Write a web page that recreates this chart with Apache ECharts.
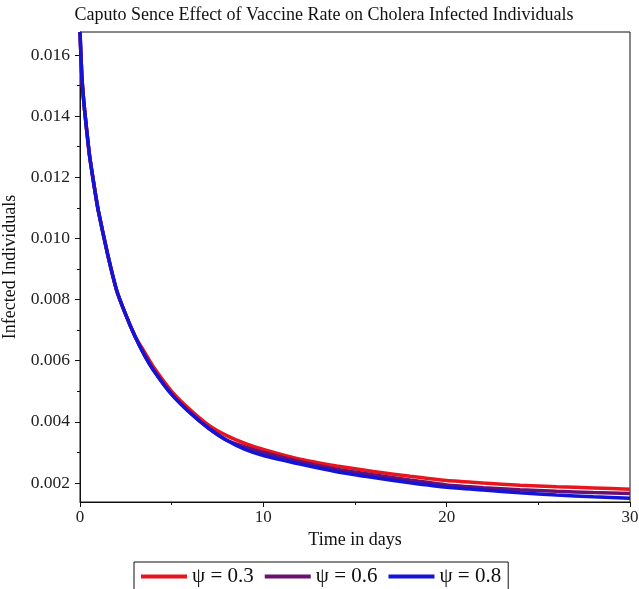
<!DOCTYPE html>
<html>
<head>
<meta charset="utf-8">
<script src="https://cdn.jsdelivr.net/npm/echarts@6/dist/echarts.min.js"></script>
<style>html,body{margin:0;padding:0;background:#fff}#c{width:639px;height:589px}</style>
</head>
<body>
<div id="c"></div>
<script>
var time = [0, 0.1, 0.25, 0.5, 0.75, 1, 1.5, 2, 2.5, 3, 3.5, 4, 5, 6, 7, 8, 9, 10, 12, 14, 16, 18, 20, 22, 24, 26, 28, 30];
var psi03 = [0.01675, 0.0153, 0.0142, 0.0128, 0.0118, 0.0109, 0.0095, 0.0083, 0.0075, 0.0068, 0.0063, 0.0058, 0.0050, 0.0044, 0.0039, 0.00355, 0.0033, 0.0031, 0.00278, 0.00256, 0.00238, 0.00222, 0.00208, 0.00200, 0.00193, 0.00188, 0.00184, 0.00180];
var psi06 = [0.01675, 0.0153, 0.0142, 0.0128, 0.0118, 0.0109, 0.0095, 0.0083, 0.0075, 0.0068, 0.0062, 0.0057, 0.0049, 0.0043, 0.0038, 0.0034, 0.00318, 0.0030, 0.00270, 0.00245, 0.00227, 0.00210, 0.00194, 0.00185, 0.00178, 0.00173, 0.00169, 0.00166];
var psi08 = [0.01675, 0.0153, 0.0142, 0.0128, 0.0118, 0.0109, 0.0095, 0.0083, 0.0075, 0.0068, 0.0062, 0.0057, 0.0049, 0.0043, 0.0038, 0.0034, 0.0031, 0.0029, 0.00262, 0.00237, 0.00218, 0.00201, 0.00186, 0.00177, 0.00168, 0.00161, 0.00155, 0.00150];
var seriesNames = ['\u03c8 = 0.3', '\u03c8 = 0.6', '\u03c8 = 0.8'];
var yMajorTicks = [0.002, 0.004, 0.006, 0.008, 0.010, 0.012, 0.014, 0.016];
var yMinorTicks = [0.003, 0.005, 0.007, 0.009, 0.011, 0.013, 0.015];
var xTicks = [0, 10, 20, 30];

function pairs(ys){ return time.map(function(t,i){ return [t, ys[i]]; }); }
var FONT = 'Liberation Serif';
var colors = ['#e8141e', '#6a1070', '#1414d8'];
var chart = echarts.init(document.getElementById('c'));
function lineSeries(i, ys){
  return {name: seriesNames[i], type: 'line', data: pairs(ys), showSymbol: false,
    smooth: 0.15,
    lineStyle: {width: 3.5, color: colors[i]}, itemStyle: {color: colors[i]}};
}
chart.setOption({
  animation: false,
  backgroundColor: '#fff',
  title: {
    text: 'Caputo Sence Effect of Vaccine Rate on Cholera Infected Individuals',
    left: 319, textAlign: 'center', top: 1,
    textStyle: {fontFamily: FONT, fontSize: 18, fontWeight: 'normal', color: '#111'}
  },
  legend: {
    data: seriesNames,
    top: 562, left: 134,
    icon: 'rect', itemWidth: 46, itemHeight: 4, itemGap: 11,
    borderColor: '#111', borderWidth: 1,
    padding: [4, 7, 14, 7],
    textStyle: {fontFamily: FONT, fontSize: 21, color: '#111'}
  },
  grid: {left: 80, right: 9, top: 32, bottom: 87, show: true, borderColor: '#111', borderWidth: 1,
    containLabel: false, outerBoundsMode: 'none'},
  xAxis: {
    type: 'value', min: 0, max: 30, interval: 10,
    name: 'Time in days', nameLocation: 'middle', nameGap: 25,
    nameTextStyle: {fontFamily: FONT, fontSize: 18, color: '#111'},
    axisLine: {lineStyle: {color: '#111'}},
    axisTick: {length: 5, lineStyle: {color: '#111'}},
    minorTick: {show: true, splitNumber: 2, length: 3, lineStyle: {color: '#111'}},
    splitLine: {show: false},
    axisLabel: {fontFamily: FONT, fontSize: 17, color: '#222', margin: 7, customValues: xTicks}
  },
  yAxis: [{
    type: 'value', min: 0.00138, max: 0.01675,
    name: 'Infected Individuals', nameLocation: 'middle', nameGap: 54,
    nameTextStyle: {fontFamily: FONT, fontSize: 18, color: '#111'},
    axisLine: {show: true, lineStyle: {color: '#111'}},
    axisTick: {show: true, length: 5, lineStyle: {color: '#111'}, customValues: yMajorTicks},
    splitLine: {show: false},
    axisLabel: {fontFamily: FONT, fontSize: 17.5, color: '#222', margin: 10, customValues: yMajorTicks,
      formatter: function(v){ return v.toFixed(3); }}
  }, {
    type: 'value', min: 0.00138, max: 0.01675, position: 'left',
    axisLine: {show: false},
    axisTick: {show: true, length: 3, lineStyle: {color: '#111'}, customValues: yMinorTicks},
    axisLabel: {show: false}, splitLine: {show: false}
  }],
  series: [lineSeries(0, psi03), lineSeries(1, psi06), lineSeries(2, psi08)]
});
</script>
</body>
</html>
